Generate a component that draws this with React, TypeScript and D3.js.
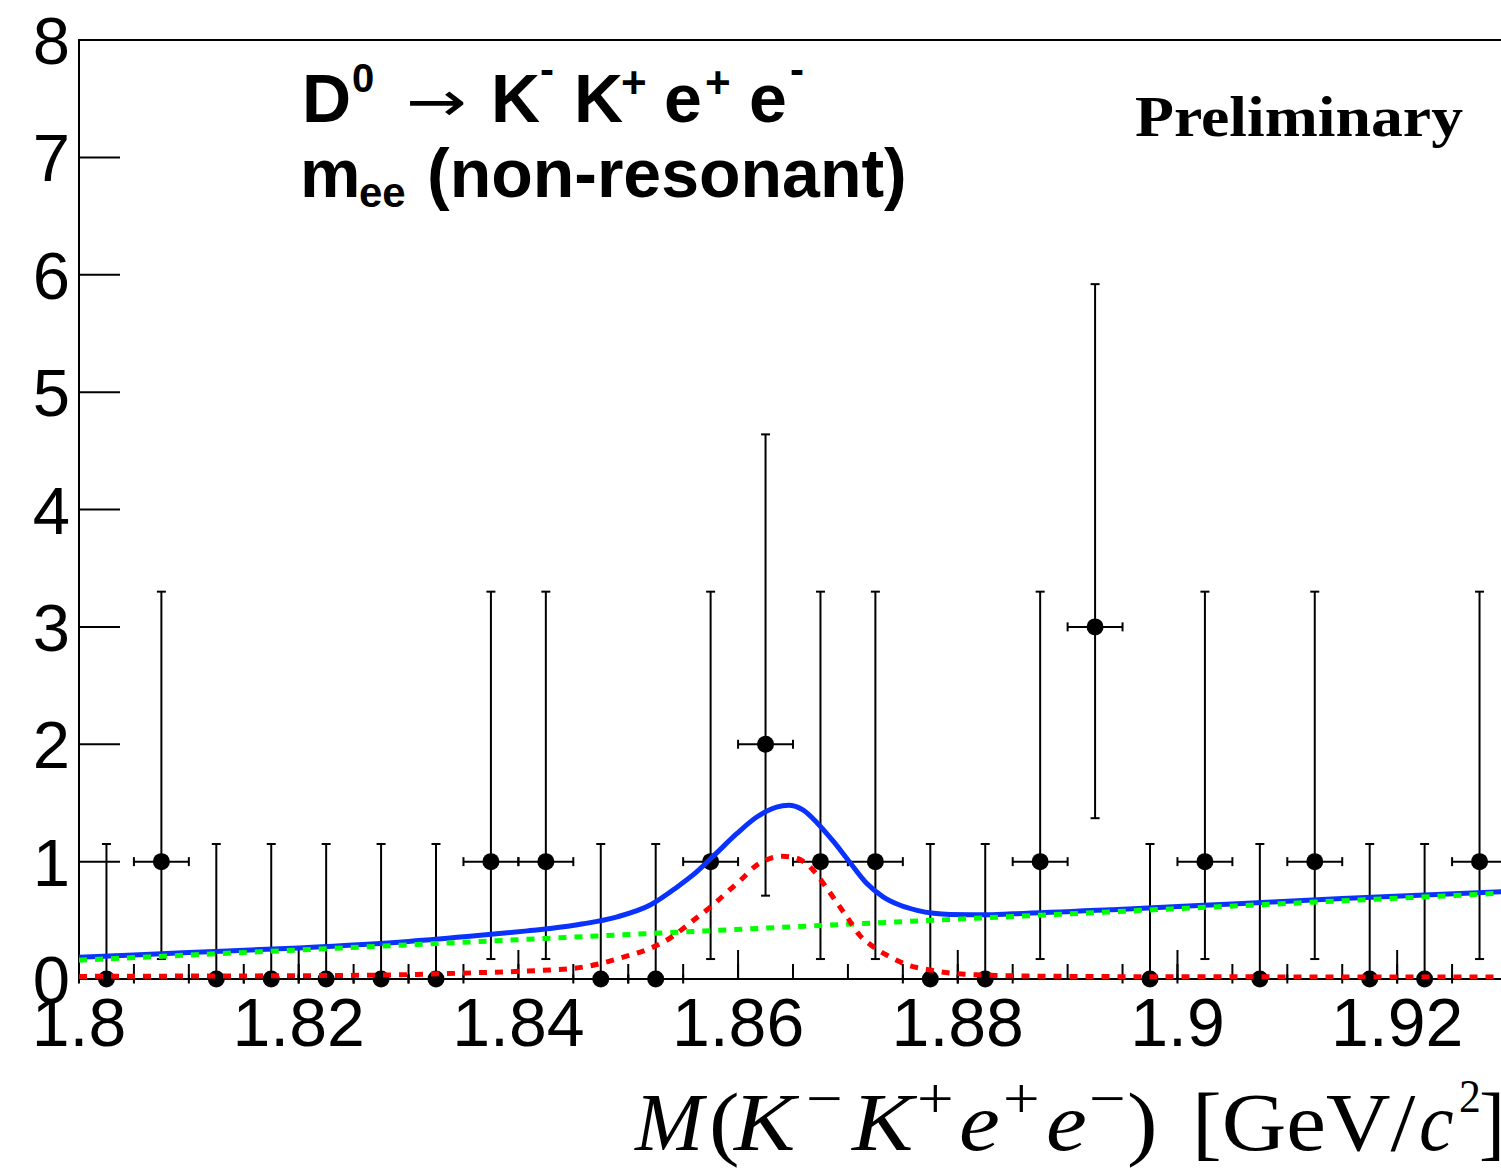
import React from "react";
import * as d3 from "d3";

// ---- binned data: M(K-K+e+e-) histogram, 5 MeV bins ----
const binCenters = [
  1.8025, 1.8075, 1.8125, 1.8175, 1.8225, 1.8275, 1.8325, 1.8375, 1.8425, 1.8475,
  1.8525, 1.8575, 1.8625, 1.8675, 1.8725, 1.8775, 1.8825, 1.8875, 1.8925, 1.8975,
  1.9025, 1.9075, 1.9125, 1.9175, 1.9225, 1.9275,
];
const counts = [0, 1, 0, 0, 0, 0, 0, 1, 1, 0, 0, 1, 2, 1, 1, 0, 0, 1, 3, 0, 1, 0, 1, 0, 0, 1];
// asymmetric Poisson intervals
const errLow = [0, 0.83, 0, 0, 0, 0, 0, 0.83, 0.83, 0, 0, 0.83, 1.29, 0.83, 0.83, 0, 0, 0.83, 1.63, 0, 0.83, 0, 0.83, 0, 0, 0.83];
const errHigh = [1.15, 2.3, 1.15, 1.15, 1.15, 1.15, 1.15, 2.3, 2.3, 1.15, 1.15, 2.3, 2.64, 2.3, 2.3, 1.15, 1.15, 2.3, 2.92, 1.15, 2.3, 1.15, 2.3, 1.15, 1.15, 2.3];
const binHalfWidth = 0.0025;

// ---- fit components ----
const totalMass = [
  1.8, 1.81, 1.82, 1.83, 1.8363, 1.8408, 1.8429, 1.8459, 1.849, 1.852, 1.8544, 1.8562,
  1.858, 1.8599, 1.8617, 1.8635, 1.8646, 1.8659, 1.8672, 1.8687, 1.8702, 1.8717, 1.8732,
  1.8747, 1.8763, 1.8778, 1.8793, 1.8823, 1.885, 1.895, 1.905, 1.915, 1.93,
];
const totalFit = [
  0.185, 0.225, 0.265, 0.32, 0.37, 0.41, 0.43, 0.47, 0.53, 0.63, 0.78, 0.91,
  1.07, 1.24, 1.38, 1.465, 1.48, 1.44, 1.33, 1.17, 0.99, 0.815, 0.7,
  0.63, 0.585, 0.56, 0.55, 0.548, 0.555, 0.595, 0.64, 0.685, 0.745,
];

const bkgMass = [1.8, 1.84, 1.88, 1.93];
const bkgFit = [0.16, 0.335, 0.51, 0.733];

const sigMass = [
  1.8, 1.81, 1.82, 1.828, 1.832, 1.8363, 1.8408, 1.8429, 1.845, 1.8474, 1.8493, 1.8517,
  1.8535, 1.855, 1.8562, 1.8577, 1.859, 1.8602, 1.8617, 1.863, 1.864, 1.8653, 1.8669,
  1.8678, 1.8687, 1.8699, 1.8711, 1.8723, 1.8738, 1.8754, 1.8775, 1.8793, 1.8823, 1.886,
  1.895, 1.91, 1.93,
];
const sigFit = [
  0.022, 0.025, 0.028, 0.034, 0.042, 0.054, 0.068, 0.077, 0.09, 0.13, 0.18, 0.25,
  0.33, 0.43, 0.52, 0.63, 0.74, 0.84, 0.97, 1.03, 1.045, 1.03, 0.92,
  0.81, 0.69, 0.53, 0.37, 0.275, 0.19, 0.12, 0.077, 0.05, 0.034, 0.026,
  0.02, 0.018, 0.016,
];

// ---- axes ----
const massDomain: [number, number] = [1.8, 1.93];
const countDomain: [number, number] = [0, 8];
const xMajorTicks = [1.8, 1.82, 1.84, 1.86, 1.88, 1.9, 1.92];
const xTickLabels = ["1.8", "1.82", "1.84", "1.86", "1.88", "1.9", "1.92"];
const yTicks = [0, 1, 2, 3, 4, 5, 6, 7, 8];
const yTickLabels = ["0", "1", "2", "3", "4", "5", "6", "7", "8"];

const SANS = "'Liberation Sans', Arial, Helvetica, sans-serif";
const SERIF = "'Liberation Serif', 'Times New Roman', Times, serif";

// A piece of the axis title, optionally widened like the TLatex rendering.
function TitlePiece(props: {
  x: number;
  y: number;
  size: number;
  italic?: boolean;
  sx?: number;
  children: React.ReactNode;
}) {
  const sx = props.sx ?? 1.12;
  return (
    <g transform={`translate(${props.x},${props.y}) scale(${sx},1)`}>
      <text
        x={0}
        y={0}
        fontFamily={SERIF}
        fontSize={props.size}
        fontStyle={props.italic ? "italic" : "normal"}
      >
        {props.children}
      </text>
    </g>
  );
}

export default function App() {
  const left = 79;
  const right = 1507;
  const top = 40;
  const bottom = 979;

  const x = d3.scaleLinear().domain(massDomain).range([left, right]);
  const y = d3.scaleLinear().domain(countDomain).range([bottom, top]);

  const xMinorTicks = d3.range(0, 27).map((i) => 1.8 + i * 0.005);

  const path = (xs: number[], ys: number[], curve: d3.CurveFactory) =>
    d3
      .line<number>()
      .x((d) => x(d))
      .y((_, i) => y(ys[i]))
      .curve(curve)(xs) || "";

  const totalPath = path(totalMass, totalFit, d3.curveMonotoneX);
  const bkgPath = path(bkgMass, bkgFit, d3.curveLinear);
  const sigPath = path(sigMass, sigFit, d3.curveMonotoneX);

  const cap = 4.5;
  const tb = 1150; // axis-title baseline
  const sb = 1118; // axis-title superscript baseline

  return (
    <svg
      width={1501}
      height={1168}
      viewBox="0 0 1501 1168"
      style={{ position: "absolute", left: 0, top: 0, background: "#fff" }}
    >
      <defs>
        <clipPath id="frame">
          <rect x={left} y={top} width={right - left} height={bottom - top} />
        </clipPath>
      </defs>
      <rect x={0} y={0} width={1501} height={1168} fill="#fff" />

      {/* frame */}
      <rect
        x={left}
        y={top}
        width={right - left}
        height={bottom - top}
        fill="none"
        stroke="#000"
        strokeWidth={2}
      />

      {/* x ticks */}
      {xMinorTicks.map((t, i) => (
        <line key={"xm" + i} x1={x(t)} x2={x(t)} y1={bottom} y2={bottom - 15} stroke="#000" strokeWidth={2} />
      ))}
      {xMajorTicks.map((t, i) => (
        <line key={"xM" + i} x1={x(t)} x2={x(t)} y1={bottom} y2={bottom - 29} stroke="#000" strokeWidth={2} />
      ))}
      {xMajorTicks.map((t, i) => (
        <text key={"xl" + i} x={x(t)} y={1046} textAnchor="middle" fontFamily={SANS} fontSize={68}>
          {xTickLabels[i]}
        </text>
      ))}

      {/* y ticks */}
      {yTicks.map((t, i) => (
        <line key={"yM" + i} x1={left} x2={left + 41} y1={y(t)} y2={y(t)} stroke="#000" strokeWidth={2} />
      ))}
      {yTicks.map((t, i) => (
        <text key={"yl" + i} x={70} y={y(t) + 24} textAnchor="end" fontFamily={SANS} fontSize={67}>
          {yTickLabels[i]}
        </text>
      ))}

      {/* data points with errors */}
      <g stroke="#000" strokeWidth={2}>
        {binCenters.map((m, i) => {
          const cx = x(m);
          const lo = y(counts[i] - errLow[i]);
          const hi = y(counts[i] + errHigh[i]);
          const cy = y(counts[i]);
          const xl = x(m - binHalfWidth);
          const xr = x(m + binHalfWidth);
          return (
            <g key={"pt" + i}>
              <line x1={cx} x2={cx} y1={hi} y2={lo} />
              <line x1={cx - cap} x2={cx + cap} y1={hi} y2={hi} />
              {errLow[i] > 0 && <line x1={cx - cap} x2={cx + cap} y1={lo} y2={lo} />}
              <line x1={xl} x2={xr} y1={cy} y2={cy} />
              <line x1={xl} x2={xl} y1={cy - cap} y2={cy + cap} />
              <line x1={xr} x2={xr} y1={cy - cap} y2={cy + cap} />
            </g>
          );
        })}
      </g>
      <g fill="#000">
        {binCenters.map((m, i) => (
          <circle key={"mk" + i} cx={x(m)} cy={y(counts[i])} r={8.5} />
        ))}
      </g>

      {/* fit curves */}
      <g clipPath="url(#frame)" fill="none">
        <path d={totalPath} stroke="#0a32ff" strokeWidth={5} />
        <path d={bkgPath} stroke="#00ff00" strokeWidth={5} strokeDasharray="8 8" />
        <path d={sigPath} stroke="#ff0000" strokeWidth={5} strokeDasharray="8 8" />
      </g>

      {/* decay label */}
      <g fontFamily={SANS} fontWeight="bold">
        <text x={302} y={122} fontSize={68}>D</text>
        <text x={352} y={92} fontSize={40}>0</text>
        <g transform="translate(406,121) scale(1.3,1)">
          <text x={0} y={0} fontSize={56} fontWeight="normal" fontFamily="'DejaVu Sans', sans-serif">→</text>
        </g>
        <text x={491} y={122} fontSize={68}>K</text>
        <text x={540} y={84} fontSize={42}>-</text>
        <text x={574} y={122} fontSize={68}>K</text>
        <text x={621} y={98} fontSize={44}>+</text>
        <text x={664} y={122} fontSize={68}>e</text>
        <text x={705} y={98} fontSize={44}>+</text>
        <text x={749} y={122} fontSize={68}>e</text>
        <text x={790} y={84} fontSize={42}>-</text>

        <text x={300} y={197} fontSize={68}>m</text>
        <text x={359} y={207} fontSize={42}>ee</text>
        <text x={427} y={197} fontSize={68}>(non-resonant)</text>
      </g>

      <text
        x={1135}
        y={136}
        fontFamily={SERIF}
        fontWeight="bold"
        fontSize={58}
        textLength={328}
        lengthAdjust="spacingAndGlyphs"
      >
        Preliminary
      </text>

      {/* x-axis title */}
      <TitlePiece x={635} y={tb} size={82} italic sx={1.0}>M</TitlePiece>
      <TitlePiece x={709} y={tb} size={82}>(</TitlePiece>
      <TitlePiece x={734} y={tb} size={82} italic>K</TitlePiece>
      <TitlePiece x={806} y={sb} size={58}>−</TitlePiece>
      <TitlePiece x={852} y={tb} size={82} italic>K</TitlePiece>
      <TitlePiece x={917} y={sb} size={58}>+</TitlePiece>
      <TitlePiece x={959} y={tb} size={82} italic>e</TitlePiece>
      <TitlePiece x={1003} y={sb} size={58}>+</TitlePiece>
      <TitlePiece x={1046} y={tb} size={82} italic>e</TitlePiece>
      <TitlePiece x={1089} y={sb} size={58}>−</TitlePiece>
      <TitlePiece x={1127} y={tb} size={82}>)</TitlePiece>
      <TitlePiece x={1192} y={tb} size={82} sx={1.09}>[GeV/</TitlePiece>
      <TitlePiece x={1419} y={tb} size={82} italic sx={0.95}>c</TitlePiece>
      <TitlePiece x={1459} y={sb - 6} size={46} sx={0.95}>2</TitlePiece>
      <TitlePiece x={1479} y={tb} size={82} sx={0.95}>]</TitlePiece>
    </svg>
  );
}
